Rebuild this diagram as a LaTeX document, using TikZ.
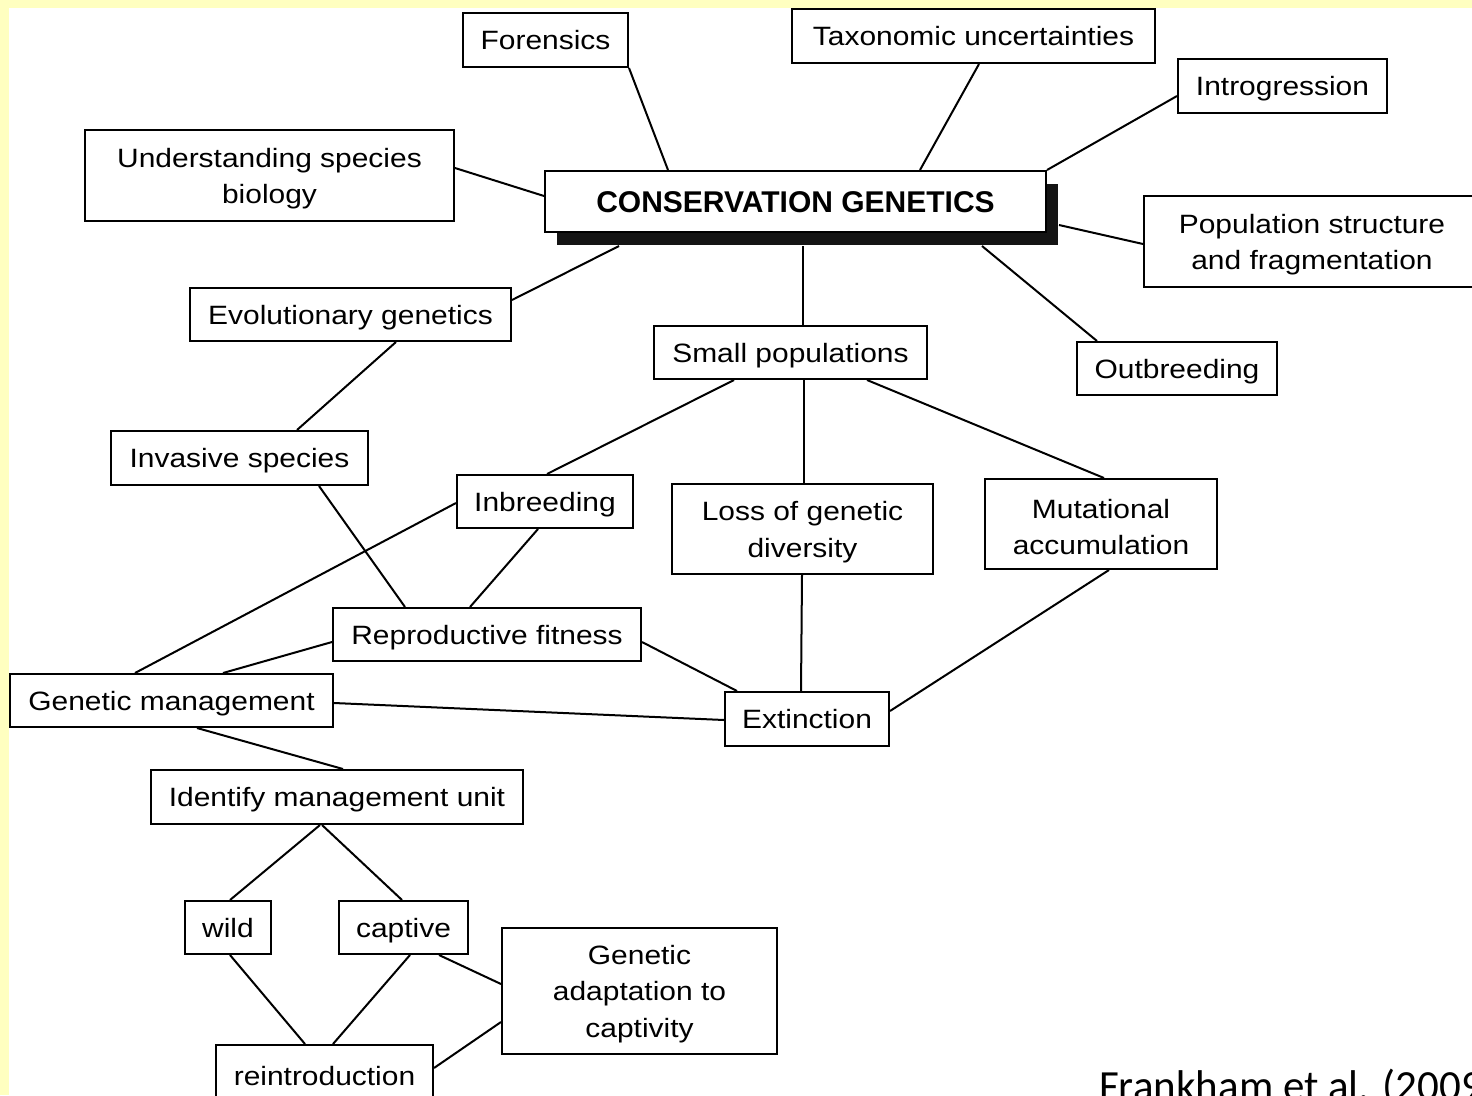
\documentclass[tikz,border=0pt]{standalone}
\usepackage{fontspec}
\setmainfont{Liberation Sans}[FakeStretch=1.13]
\newfontfamily\titlefont{Liberation Sans}
\newfontfamily\citefont{Carlito}
\usetikzlibrary{calc,shadows}
\definecolor{slidebg}{HTML}{FFFFC0}
% taller first line for the multi-line boxes
\newcommand\tallstrut{\rule{0pt}{25pt}}
\tikzset{
  box/.style={draw=black, line width=2pt, fill=white, inner sep=0pt,
    font=\fontsize{26.5}{36.5}\selectfont},
  onebox/.style={box, text height=22pt, text depth=3pt},
  twobox/.style={box, align=center},
  link/.style={line width=2pt, black},
}
\begin{document}
\begin{tikzpicture}[x=1pt,y=-1pt]
% page and slide margin
\useasboundingbox (0,0) rectangle (1472,1095);
\fill[slidebg] (0,0) rectangle (1472,1095);
\fill[white] (9,8) rectangle (1472,1095);

% central concept with its heavy drop shadow
\node[box, minimum width=501pt, minimum height=61pt, text height=24pt, text depth=3pt,
  general shadow={fill=black!92, shadow xshift=12pt, shadow yshift=-13pt},
  font=\titlefont\bfseries\fontsize{30}{36}\selectfont]
  (cg) at (795.5,201.5) {CONSERVATION GENETICS};

% surrounding topics
\node[onebox, minimum width=165pt, minimum height=54pt] (forensics) at (545.5,40) {Forensics};
\node[onebox, minimum width=363pt, minimum height=54pt] (taxo) at (973.5,36) {Taxonomic uncertainties};
\node[onebox, minimum width=209pt, minimum height=54pt] (intro) at (1282.5,86) {Introgression};
\node[twobox, minimum width=369pt, minimum height=91pt] (understand) at (269.5,175.5) {\tallstrut Understanding species\\biology};
\node[twobox, minimum width=336pt, minimum height=91pt] (popstruct) at (1312,241.5) {\tallstrut Population structure\\and fragmentation};
\node[onebox, minimum width=321pt, minimum height=53pt] (evol) at (350.5,314.5) {Evolutionary genetics};
\node[onebox, minimum width=273pt, minimum height=53pt] (smallpop) at (790.5,352.5) {Small populations};
\node[onebox, minimum width=200pt, minimum height=53pt] (outbreed) at (1177,368.5) {Outbreeding};
\node[onebox, minimum width=257pt, minimum height=54pt] (invasive) at (239.5,458) {Invasive species};
\node[onebox, minimum width=176pt, minimum height=53pt] (inbreed) at (545,501.5) {Inbreeding};
\node[twobox, minimum width=261pt, minimum height=90pt] (loss) at (802.5,529) {\tallstrut Loss of genetic\\diversity};
\node[twobox, minimum width=232pt, minimum height=90pt] (mutation) at (1101,524) {\tallstrut Mutational\\accumulation};
\node[onebox, minimum width=308pt, minimum height=53pt] (repro) at (487,634.5) {Reproductive fitness};
\node[onebox, minimum width=323pt, minimum height=53pt] (genman) at (171.5,700.5) {Genetic management};
\node[onebox, minimum width=164pt, minimum height=54pt] (extinct) at (807,719) {Extinction};
\node[onebox, minimum width=372pt, minimum height=54pt] (identify) at (337,797) {Identify management unit};
\node[onebox, minimum width=86pt, minimum height=53pt] (wild) at (228,927.5) {wild};
\node[onebox, minimum width=129pt, minimum height=53pt] (captive) at (403.5,927.5) {captive};
\node[twobox, minimum width=275pt, minimum height=126pt] (adapt) at (639.5,991) {\tallstrut Genetic\\adaptation to\\captivity};
\node[onebox, minimum width=217pt, minimum height=62pt] (reintro) at (324.5,1076) {reintroduction};

% source citation
\node[anchor=base west, inner sep=0pt, font=\citefont\fontsize{43}{50}\selectfont]
  (cite) at (1099,1100) {Frankham et al. (2009)};

% connectors around the central concept
\draw[link] (forensics.south east) -- ($(cg.north west)+(124,0)$);
\draw[link] ($(taxo.south)+(5.5,0)$) -- ($(cg.north west)+(376,0)$);
\draw[link] ($(intro.west)+(0,10)$) -- (cg.north east);
\draw[link] ($(understand.east)+(0,-7.5)$) -- ($(cg.west)+(0,-5.5)$);
\draw[link] ($(popstruct.west)+(0,2.5)$) -- ($(cg.east)+(12,23.5)$);
\draw[link] ($(outbreed.north west)+(21,0)$) -- ($(cg.south west)+(438,13)$);
\draw[link] ($(evol.east)+(0,-14.5)$) -- ($(cg.south west)+(75,13)$);
\draw[link] ($(cg.south)+(7.5,13)$) -- ($(smallpop.north)+(12.5,0)$);

% evolutionary branch
\draw[link] ($(evol.south)+(45.5,0)$) -- ($(invasive.north)+(57.5,0)$);
\draw[link] ($(invasive.south)+(79.5,0)$) -- ($(repro.north west)+(73,0)$);

% small population consequences
\draw[link] ($(smallpop.south west)+(81,0)$) -- ($(inbreed.north)+(2,0)$);
\draw[link] ($(smallpop.south)+(13.5,0)$) -- ($(loss.north)+(1.5,0)$);
\draw[link] ($(smallpop.south east)+(-61,0)$) -- ($(mutation.north)+(3,0)$);
\draw[link] ($(inbreed.south)+(-7,0)$) -- ($(repro.north west)+(138,0)$);
\draw[link] ($(inbreed.west)+(0,1.5)$) -- ($(genman.north west)+(126,0)$);
\draw[link] ($(repro.west)+(0,7.5)$) -- ($(genman.north west)+(214,0)$);
\draw[link] ($(repro.east)+(0,7.5)$) -- ($(extinct.north west)+(13,0)$);
\draw[link] ($(loss.south)+(-0.5,0)$) -- ($(extinct.north)+(-6,0)$);
\draw[link] ($(mutation.south)+(8,0)$) -- ($(extinct.east)+(0,-8)$);
\draw[link] ($(genman.east)+(0,2.5)$) -- ($(extinct.west)+(0,1)$);

% management branch
\draw[link] ($(genman.south)+(25.5,0)$) -- ($(identify.north)+(6,0)$);
\draw[link] ($(identify.south)+(-17,0)$) -- ($(wild.north)+(2,0)$);
\draw[link] ($(identify.south)+(-15,0)$) -- ($(captive.north)+(-1.5,0)$);
\draw[link] ($(wild.south)+(2,0)$) -- ($(reintro.north west)+(90,0)$);
\draw[link] ($(captive.south)+(6.5,0)$) -- ($(reintro.north west)+(118,0)$);
\draw[link] ($(captive.south east)+(-30,0)$) -- ($(adapt.west)+(0,-7)$);
\draw[link] ($(reintro.east)+(0,-8)$) -- ($(adapt.west)+(0,31)$);
\end{tikzpicture}
\end{document}
